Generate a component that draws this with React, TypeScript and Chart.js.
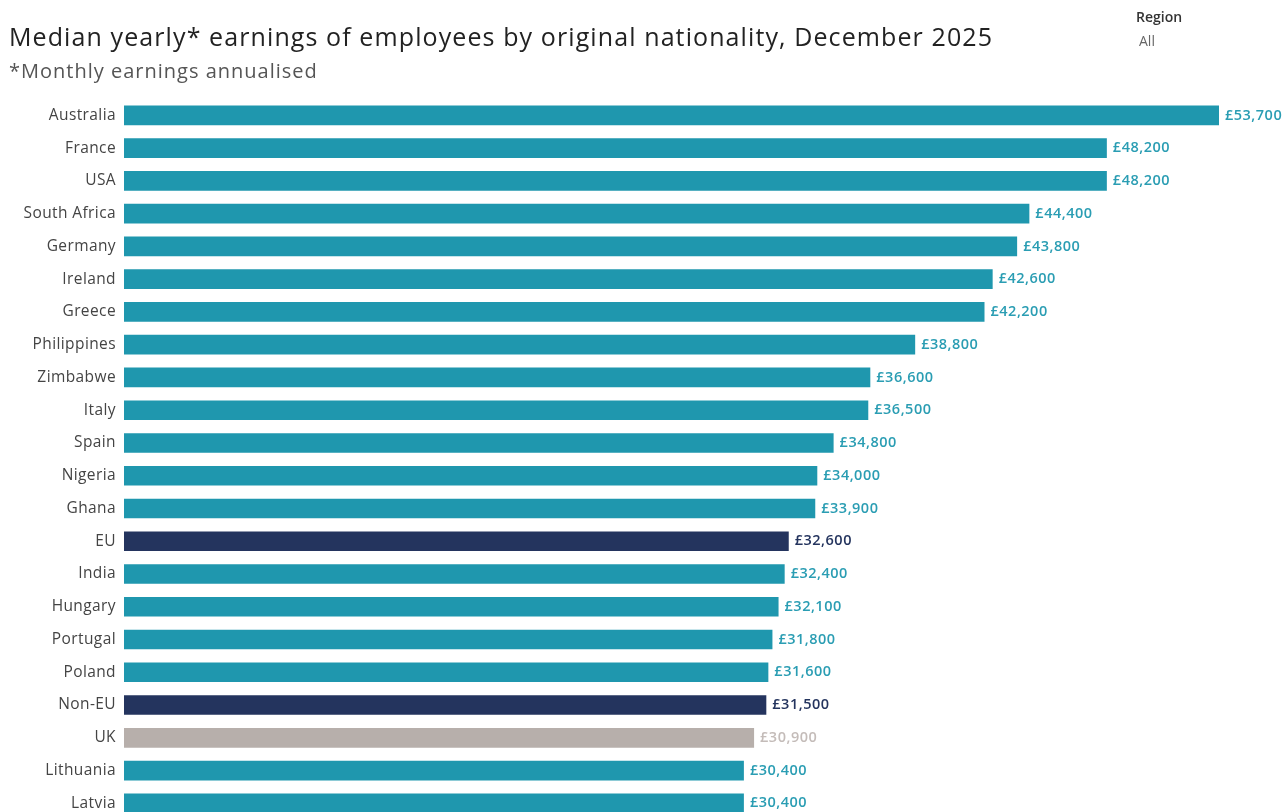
import React, { useEffect, useRef } from "react";
import { Chart, registerables } from "chart.js";

Chart.register(...registerables);

const categories = [
  "Australia", "France", "USA", "South Africa", "Germany", "Ireland", "Greece",
  "Philippines", "Zimbabwe", "Italy", "Spain", "Nigeria", "Ghana", "EU", "India",
  "Hungary", "Portugal", "Poland", "Non-EU", "UK", "Lithuania", "Latvia",
];
const earnings = [
  53700, 48200, 48200, 44400, 43800, 42600, 42200, 38800, 36600, 36500, 34800,
  34000, 33900, 32600, 32400, 32100, 31800, 31600, 31500, 30900, 30400, 30400,
];
const groups = [
  "country", "country", "country", "country", "country", "country", "country",
  "country", "country", "country", "country", "country", "country", "aggregate",
  "country", "country", "country", "country", "aggregate", "uk", "country", "country",
];

const barColors: Record<string, string> = {
  country: "#1f97ae",
  aggregate: "#24345e",
  uk: "#b7afab",
};
const labelColors: Record<string, string> = {
  country: "#2a9db3",
  aggregate: "#24345e",
  uk: "#c4bcb9",
};

const FONT = "'Open Sans', 'Noto Sans', sans-serif";

const spacing = {
  id: "spacing",
  beforeDraw(chart: any) {
    (chart.ctx as any).letterSpacing = "0.4px";
  },
};

const valueLabels = {
  id: "valueLabels",
  afterDatasetsDraw(chart: any) {
    const ctx = chart.ctx;
    const meta = chart.getDatasetMeta(0);
    ctx.save();
    (ctx as any).letterSpacing = "0.5px";
    ctx.font = `600 14.5px ${FONT}`;
    ctx.textBaseline = "middle";
    ctx.textAlign = "left";
    meta.data.forEach((bar: any, i: number) => {
      ctx.fillStyle = labelColors[groups[i]];
      ctx.fillText("£" + earnings[i].toLocaleString("en-GB"), bar.x + 6, bar.y);
    });
    ctx.restore();
  },
};

export default function App() {
  const ref = useRef<HTMLCanvasElement>(null);
  useEffect(() => {
    if (!ref.current) return;
    const chart = new Chart(ref.current, {
      type: "bar",
      data: {
        labels: categories,
        datasets: [
          {
            data: earnings,
            backgroundColor: groups.map((g) => barColors[g]),
            barPercentage: 0.6,
            categoryPercentage: 1,
          },
        ],
      },
      options: {
        indexAxis: "y",
        animation: false,
        responsive: false,
        maintainAspectRatio: false,
        layout: { padding: { top: 99, bottom: 12, right: 67, left: 0 } },
        plugins: { legend: { display: false }, tooltip: { enabled: false } },
        scales: {
          x: { display: false, min: 0, max: 53700 },
          y: {
            grid: { display: false, drawTicks: false },
            border: { display: false },
            ticks: {
              color: "#444",
              font: { family: FONT, size: 15.5 },
              padding: 8,
            },
            afterFit(scale: any) {
              scale.width = 124;
            },
          },
        },
      },
      plugins: [spacing, valueLabels],
    });
    return () => chart.destroy();
  }, []);

  return (
    <div
      style={{
        position: "fixed",
        left: 0,
        top: 0,
        width: 1286,
        height: 812,
        overflow: "hidden",
        background: "#fff",
        fontFamily: FONT,
      }}
    >
      <canvas
        ref={ref}
        width={1286}
        height={837}
        style={{ position: "absolute", left: 0, top: 0, width: 1286, height: 837 }}
      />
      <div
        style={{
          position: "absolute",
          left: 9,
          top: 19,
          fontSize: 25,
          letterSpacing: "1.1px",
          color: "#222",
          whiteSpace: "nowrap",
          lineHeight: "34px",
        }}
      >
        Median yearly* earnings of employees by original nationality, December 2025
      </div>
      <div
        style={{
          position: "absolute",
          left: 9,
          top: 57,
          fontSize: 20,
          letterSpacing: "1px",
          color: "#555",
          whiteSpace: "nowrap",
          lineHeight: "28px",
        }}
      >
        *Monthly earnings annualised
      </div>
      <div
        style={{
          position: "absolute",
          left: 1136,
          top: 7,
          fontSize: 14,
          fontWeight: 600,
          color: "#333",
          lineHeight: "20px",
        }}
      >
        Region
      </div>
      <div
        style={{
          position: "absolute",
          left: 1139,
          top: 31,
          fontSize: 14,
          color: "#666",
          lineHeight: "20px",
        }}
      >
        All
      </div>
    </div>
  );
}
